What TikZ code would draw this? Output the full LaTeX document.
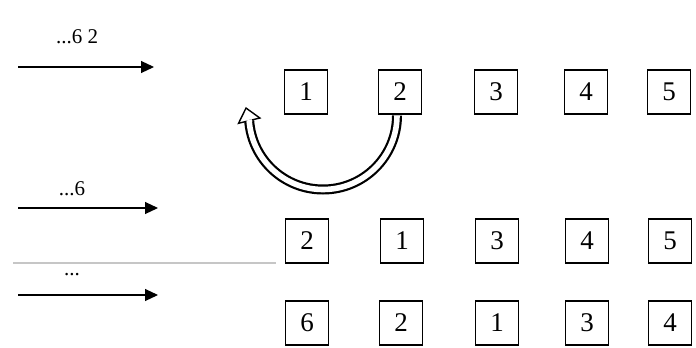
\documentclass[tikz,border=0pt]{standalone}
\usepackage{fontspec}
\setmainfont{Liberation Serif}
\usetikzlibrary{arrows.meta,calc}
\tikzset{
  cell/.style={draw, line width=1.4pt, minimum width=43pt, minimum height=44pt, inner sep=0pt, font=\fontsize{27}{29}\selectfont},
  feed/.style={line width=1.1pt, -{Triangle[length=13pt,width=12pt]}},
  lbl/.style={font=\fontsize{21}{23}\selectfont, inner sep=0pt},
}
\begin{document}
\begin{tikzpicture}[x=1pt,y=1pt]
\useasboundingbox (0,0) rectangle (696,-348);
% row 1
\node[cell] (r1a) at (306,-92) {1};
\node[cell] (r1b) at (400,-92) {2};
\node[cell] (r1c) at (496,-92) {3};
\node[cell] (r1d) at (586,-92) {4};
\node[cell] (r1e) at (669,-92) {5};
% row 2
\node[cell] (r2a) at (307,-241) {2};
\node[cell] (r2b) at (402,-241) {1};
\node[cell] (r2c) at (497,-241) {3};
\node[cell] (r2d) at (587,-241) {4};
\node[cell] (r2e) at (670,-241) {5};
% row 3
\node[cell] (r3a) at (307,-323) {6};
\node[cell] (r3b) at (401,-323) {2};
\node[cell] (r3c) at (497,-323) {1};
\node[cell] (r3d) at (587,-323) {3};
\node[cell] (r3e) at (670,-323) {4};
% feed arrows
\coordinate (f1s) at (18,-67);  \coordinate (f1e) at (154,-67);
\coordinate (f2s) at (18,-208); \coordinate (f2e) at (158,-208);
\coordinate (f3s) at (18,-295); \coordinate (f3e) at (158,-295);
\draw[feed] (f1s) -- (f1e);
\draw[feed] (f2s) -- (f2e);
\draw[feed] (f3s) -- (f3e);
\node[lbl] (l1) at (77,-37) {...6 2};
\node[lbl] (l2) at (72,-189) {...6};
\node[lbl] (l3) at (72,-275) {...};
% separator
\coordinate (g1) at (13,-263); \coordinate (g2) at (276,-263);
\draw[gray!45, line width=1.5pt] (g1) -- (g2);
% curved swap arrow (hollow)
\coordinate (cs) at ($(r1b.south)+(-3,-0.8)$);
\draw[line width=10pt] (cs) arc[start angle=0, end angle=-176, radius=74];
\draw[white, line width=5.6pt] (cs) arc[start angle=0, end angle=-176, radius=74];
\coordinate (ce) at ($(cs)+(-74,0)+(-176:74)$);
\begin{scope}[shift={(ce)}, rotate=14]
\draw[line width=1.4pt, fill=white, line join=miter] (-11,0) -- (0,13) -- (11,0) -- cycle;
\fill[white] (-2.8,-1.5) rectangle (2.8,0.8);
\end{scope}
\end{tikzpicture}
\end{document}
